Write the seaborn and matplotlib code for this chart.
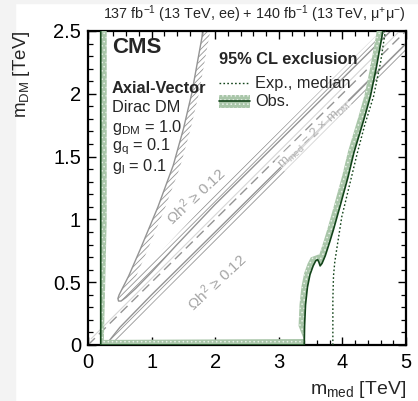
import numpy as np
import pandas as pd
import matplotlib
matplotlib.use("Agg")
import matplotlib.pyplot as plt
from matplotlib.patches import Rectangle
import seaborn as sns

# ---------------- data ----------------
obs_x = [0.20, 0.20, 0.20, 3.40, 3.405, 3.42, 3.45, 3.49, 3.54, 3.58, 3.61, 3.63, 3.65, 3.68, 3.73, 3.80,
         3.86, 3.96, 4.09, 4.18, 4.34, 4.44, 4.53, 4.62, 4.66]
obs_y = [2.60, 1.00, 0.00, 0.00, 0.15, 0.32, 0.46, 0.56, 0.63, 0.67, 0.68, 0.66, 0.63, 0.65, 0.71, 0.82,
         0.92, 1.10, 1.34, 1.53, 1.80, 1.98, 2.20, 2.45, 2.60]

exp_x = [3.85, 3.85, 3.86, 3.88, 3.91, 3.99, 4.12, 4.23, 4.35, 4.49, 4.60, 4.69]
exp_y = [0.00, 0.36, 0.55, 0.66, 0.76, 1.02, 1.29, 1.52, 1.75, 1.98, 2.25, 2.55]

tongue_x = [1.84, 1.81, 1.72, 1.63, 1.50, 1.34, 1.10, 0.82, 0.64, 0.54, 0.49, 0.47, 0.48, 0.52, 0.60, 0.75,
            1.00, 1.40, 2.00, 3.00, 4.00, 4.80]
tongue_y = [2.60, 2.50, 2.25, 2.00, 1.72, 1.43, 1.10, 0.76, 0.55, 0.45, 0.40, 0.37, 0.35, 0.35, 0.38, 0.45,
            0.58, 0.80, 1.12, 1.62, 2.12, 2.52]

lower_x = [0.28, 0.50, 1.00, 2.00, 3.00, 4.00, 5.00]
lower_y = [0.00, 0.14, 0.40, 0.90, 1.40, 1.90, 2.40]

diag_x = [0.0, 5.0]
diag_y = [0.0, 2.5]

light_x = [0.05, 4.90]
light_y = [0.05, 2.50]

x_ticks = [0, 1, 2, 3, 4, 5]
y_ticks = [0, 0.5, 1, 1.5, 2, 2.5]
y_ticklabels = ["0", "0.5", "1", "1.5", "2", "2.5"]

# ---------------- style ----------------
sns.set_theme(style="ticks")
plt.rcParams["font.family"] = ["Liberation Sans", "DejaVu Sans"]
plt.rcParams["mathtext.default"] = "regular"
plt.rcParams["hatch.linewidth"] = 0.6

fig = plt.figure(figsize=(4.18, 4.01), dpi=100)
fig.patches.append(Rectangle((0, 0), 15 / 418, 1, transform=fig.transFigure, color="#f3f3f3", zorder=-10))
fig.patches.append(Rectangle((0, 1 - 3 / 401), 1, 3 / 401, transform=fig.transFigure, color="#f3f3f3", zorder=-10))
ax = fig.add_axes([88 / 418, (401 - 345) / 401, (406 - 88) / 418, (345 - 31) / 401])
ax.set_xlim(0, 5)
ax.set_ylim(0, 2.5)

GRAY = "#949494"
DKGREEN = "#13441a"
FS = 11.8


def band(xs, ys, width_px, side, **kw):
    pts_d = np.column_stack([xs, ys]).astype(float)
    pts = ax.transData.transform(pts_d)
    d = np.gradient(pts, axis=0)
    d /= np.linalg.norm(d, axis=1)[:, None]
    nrm = np.column_stack([-d[:, 1], d[:, 0]]) * side
    off = ax.transData.inverted().transform(pts + nrm * width_px)
    poly = np.vstack([pts_d, off[::-1]])
    ax.fill(poly[:, 0], poly[:, 1], **kw)


# relic density contours
band(tongue_x, tongue_y, 7, +1, facecolor="none", edgecolor=GRAY, hatch="//////", lw=0, zorder=1)
band(lower_x, lower_y, 7, -1, facecolor="none", edgecolor=GRAY, hatch="//////", lw=0, zorder=1)
sns.lineplot(x=tongue_x, y=tongue_y, sort=False, estimator=None, ax=ax, color=GRAY, lw=1.0, zorder=2)
sns.lineplot(x=lower_x, y=lower_y, sort=False, estimator=None, ax=ax, color=GRAY, lw=1.0, zorder=2)
sns.lineplot(x=light_x, y=light_y, sort=False, estimator=None, ax=ax, color="#d6d6d6", lw=0.8, zorder=2)
sns.lineplot(x=diag_x, y=diag_y, sort=False, estimator=None, ax=ax, color=GRAY, lw=1.0,
             linestyle=(0, (7, 4)), zorder=2)

# exclusion
band(obs_x, obs_y, 6, +1, facecolor="#a9c6a9", edgecolor="#e9f1e9", hatch="....", lw=0, zorder=3)
sns.lineplot(x=obs_x, y=obs_y, sort=False, estimator=None, ax=ax, color=DKGREEN, lw=1.2, zorder=4)
sns.lineplot(x=exp_x, y=exp_y, sort=False, estimator=None, ax=ax, color=DKGREEN, lw=1.0,
             linestyle=(0, (1.2, 1.6)), zorder=4)

# relic labels
ax.text(1.69, 1.19, r"$\Omega h^{2}$ ≥ 0.12", rotation=43, color="#a5a5a5", fontsize=11,
        ha="center", va="center", rotation_mode="anchor", zorder=5)
ax.text(2.02, 0.50, r"$\Omega h^{2}$ ≥ 0.12", rotation=43, color="#a5a5a5", fontsize=11,
        ha="center", va="center", rotation_mode="anchor", zorder=5)
ax.text(3.56, 1.68, r"m$_{med}$ = 2 × m$_{DM}$", rotation=43, color="#b0b0b0", fontsize=9.5,
        ha="center", va="center", rotation_mode="anchor", zorder=5,
        bbox=dict(facecolor="white", edgecolor="none", pad=0.3, alpha=0.6))

# text block
T = ax.transAxes
ax.text(0.075, 0.946, "CMS", transform=T, fontsize=16, fontweight="bold", va="center", ha="left")
ax.text(0.075, 0.818, "Axial-Vector", transform=T, fontsize=FS, fontweight="bold", va="center", ha="left")
ax.text(0.075, 0.755, "Dirac DM", transform=T, fontsize=FS, va="center", ha="left")
ax.text(0.075, 0.694, r"g$_{DM}$ = 1.0", transform=T, fontsize=FS, va="center", ha="left")
ax.text(0.075, 0.631, r"g$_{q}$ = 0.1", transform=T, fontsize=FS, va="center", ha="left")
ax.text(0.075, 0.570, r"g$_{l}$ = 0.1", transform=T, fontsize=FS, va="center", ha="left")

# legend (manual)
ax.text(0.412, 0.908, "95% CL exclusion", transform=T, fontsize=FS, fontweight="bold", va="center", ha="left")
ax.plot([0.412, 0.509], [0.834, 0.834], transform=T, color=DKGREEN, lw=1.0, linestyle=(0, (1.2, 1.6)))
ax.text(0.525, 0.834, "Exp., median", transform=T, fontsize=FS, va="center", ha="left")
ax.add_patch(Rectangle((0.412, 0.755), 0.097, 0.041, transform=T, facecolor="#a9c6a9",
                       edgecolor="#e9f1e9", hatch="....", lw=0))
ax.plot([0.412, 0.509], [0.7755, 0.7755], transform=T, color=DKGREEN, lw=1.2)
ax.text(0.525, 0.7755, "Obs.", transform=T, fontsize=FS, va="center", ha="left")

# title
ax.text(1.0, 1.02, r"137 fb$^{-1}$ (13 TeV, ee) + 140 fb$^{-1}$ (13 TeV, $\mu^{+}\mu^{-}$)",
        transform=T, fontsize=10.4, ha="right", va="bottom")

# axes
ax.set_xticks(x_ticks)
ax.set_yticks(y_ticks)
ax.set_yticklabels(y_ticklabels)
ax.xaxis.set_minor_locator(matplotlib.ticker.MultipleLocator(0.2))
ax.yaxis.set_minor_locator(matplotlib.ticker.MultipleLocator(0.1))
ax.tick_params(which="both", direction="in", top=True, right=True, colors="black", labelsize=14.5)
ax.tick_params(which="major", length=6, width=1.0)
ax.tick_params(which="minor", length=3.5, width=0.9)
ax.tick_params(axis="x", pad=6)
ax.tick_params(axis="y", pad=5)
for s in ax.spines.values():
    s.set_linewidth(1.6)
    s.set_color("black")
ax.set_xlabel(r"m$_{med}$ [TeV]", fontsize=14, loc="right", labelpad=5)
ax.set_ylabel(r"m$_{DM}$ [TeV]", fontsize=13.5, loc="top", labelpad=15)
ax.set_facecolor("white")

fig.savefig("out.png", dpi=100)
